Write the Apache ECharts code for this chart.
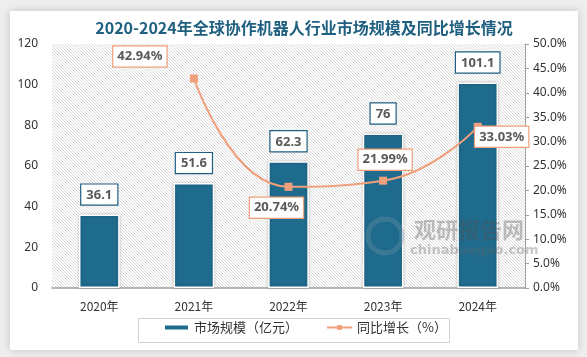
<!DOCTYPE html>
<html><head><meta charset="utf-8">
<script src="https://cdn.jsdelivr.net/npm/echarts@6/dist/echarts.min.js"></script>
<style>html,body{margin:0;padding:0;background:#eeeeee;}#c{width:587px;height:357px;}</style>
</head><body><div id="c"></div>
<script>
var categories = ['2020年','2021年','2022年','2023年','2024年'];
var marketSize = [36.1, 51.6, 62.3, 76, 101.1];
var growth = [null, 42.94, 20.74, 21.99, 33.03];
var leftTicks = [0,20,40,60,80,100,120];
var rightTicks = ['0.0%','5.0%','10.0%','15.0%','20.0%','25.0%','30.0%','35.0%','40.0%','45.0%','50.0%'];

var pc = document.createElement('canvas');
pc.width = 6; pc.height = 6;
var g = pc.getContext('2d');
g.fillStyle = '#ffffff'; g.fillRect(0,0,6,6);
g.strokeStyle = '#d9d9d9'; g.lineWidth = 1;
g.beginPath();
for (var k=-6;k<=12;k+=3){ g.moveTo(k,0); g.lineTo(k+6,6); }
g.stroke();

var chart = echarts.init(document.getElementById('c'), null, {renderer:'canvas'});
var labelPosLine = [null, [-54,-22], [-12,21], [2,-21], [24,10]];
chart.setOption({
  backgroundColor: '#eeeeee',
  animation: false,
  title: {
    text: '2020-2024年全球协作机器人行业市场规模及同比增长情况',
    left: 299, top: 15, textAlign: 'center',
    textStyle: {color:'#1f5f80', fontSize:16, fontWeight:'bold', fontFamily:'Noto Sans CJK SC'}
  },
  graphic: [
    {type:'rect', shape:{x:10,y:11,width:568,height:339}, style:{fill:'#ffffff', shadowBlur:8, shadowColor:'rgba(0,0,0,0.18)'}, z:-10},
    {type:'rect', shape:{x:138.5,y:318.5,width:311,height:24}, style:{fill:'none', stroke:'#d0d0d0', lineWidth:1}, z:-1},
    {type:'text', left:414, top:219, style:{text:'观研报告网', fill:'rgba(80,80,80,0.35)', font:'bold 22px "Noto Sans CJK SC"'}, z:50},
    {type:'text', left:410, top:244, style:{text:'chinabaogao.com', fill:'rgba(100,100,100,0.35)', font:'bold 13px "DejaVu Sans"'}, z:50},
    {type:'circle', shape:{cx:385,cy:236,r:17}, style:{fill:'none', stroke:'rgba(110,150,170,0.35)', lineWidth:5}, z:50}
  ],
  legend: {
    bottom: 18, left: 158, itemGap: 28,
    textStyle:{color:'#333', fontSize:13, fontFamily:'Noto Sans CJK SC'},
    data: [
      {name:'市场规模（亿元）', icon:'rect', itemStyle:{color:'#1f6b8d'}},
      {name:'同比增长（%）'}
    ],
    itemWidth: 25, itemHeight: 6
  },
  grid: {left:52, right:62, top:44, bottom:69, show:true, borderWidth:0,
    backgroundColor:{image:pc, repeat:'repeat'}},
  xAxis: {
    type:'category', data:categories,
    axisLine:{lineStyle:{color:'#a0a0a0', width:1.5}},
    axisTick:{show:false},
    axisLabel:{color:'#333', fontSize:12, margin:12, fontFamily:'Noto Sans CJK SC'}
  },
  yAxis: [
    {type:'value', min:0, max:120, interval:20,
     axisLine:{show:false}, axisTick:{show:false}, splitLine:{show:false},
     axisLabel:{color:'#333', fontSize:12, margin:14, fontFamily:'Noto Sans'}},
    {type:'value', min:0, max:50, interval:5, position:'right',
     axisLine:{show:true, lineStyle:{color:'#a0a0a0'}}, axisTick:{show:true, length:4, lineStyle:{color:'#a0a0a0'}},
     splitLine:{show:false},
     axisLabel:{color:'#333', fontSize:12, margin:8, fontFamily:'Noto Sans',
       formatter:function(v){ return rightTicks[Math.round(v/5)]; }}}
  ],
  series: [
    {name:'市场规模（亿元）', type:'bar', data:marketSize, barWidth:'43%',
     itemStyle:{color:'#1f6b8d', borderColor:'#ffffff', borderWidth:1.5, shadowBlur:3, shadowColor:'rgba(0,0,0,0.25)'},
     label:{show:true, position:'top', distance:10, color:'#595959', fontWeight:'bold', fontSize:13,
       fontFamily:'Noto Sans', backgroundColor:'#ffffff', borderColor:'#1f5f80', borderWidth:1.2,
       padding:[4,5,3,5]}},
    {name:'同比增长（%）', type:'line', yAxisIndex:1, smooth:0.5, data:growth.map(function(v,i){
        return {value:v, label:{offset: labelPosLine[i] || [0,0]}};
      }),
     symbol:'rect', symbolSize:8, connectNulls:false,
     lineStyle:{color:'#ef9f7a', width:2}, itemStyle:{color:'#ef9f7a'},
     label:{show:true, position:'inside', color:'#595959', fontWeight:'bold', fontSize:13, fontFamily:'Noto Sans',
       backgroundColor:'#ffffff', borderColor:'#ef9f7a', borderWidth:1.2, padding:[4,4,3,4],
       formatter:function(p){ return p.value.toFixed(2)+'%'; }}, z:5}
  ]
});
</script></body></html>
